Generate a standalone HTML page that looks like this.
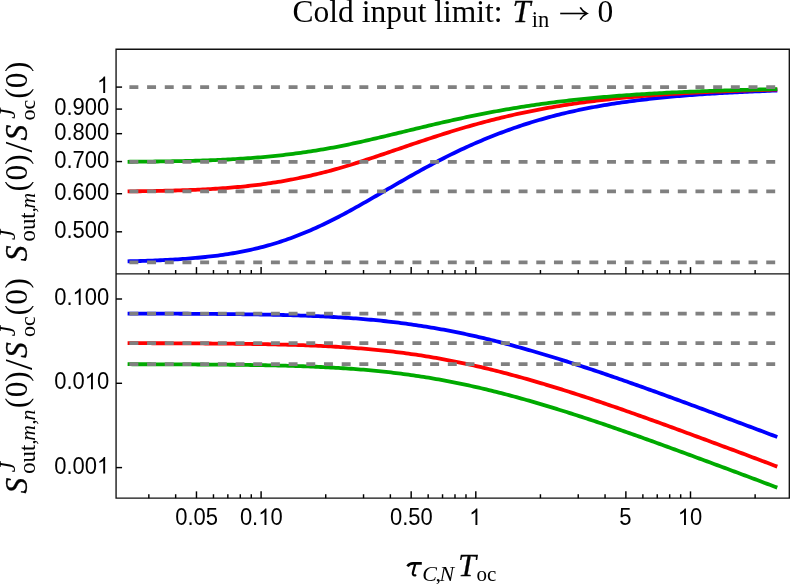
<!DOCTYPE html>
<html><head><meta charset="utf-8"><title>Cold input limit</title>
<style>html,body{margin:0;padding:0;background:#fff;}body{width:790px;height:584px;overflow:hidden;font-family:"Liberation Sans",sans-serif;}svg{display:block;}</style>
</head><body>
<svg width="790" height="584" viewBox="0 0 790 584">
<rect width="790" height="584" fill="#fff"/>
<g fill="none" stroke-width="3.80" stroke-linejoin="round">
<path stroke="#0000ff" d="M127.60 261.32 L130.11 261.26 L132.62 261.19 L135.13 261.13 L137.63 261.06 L140.14 260.98 L142.65 260.90 L145.16 260.82 L147.67 260.73 L150.18 260.64 L152.68 260.55 L155.19 260.45 L157.70 260.34 L160.21 260.23 L162.72 260.12 L165.23 260.00 L167.74 259.87 L170.24 259.73 L172.75 259.59 L175.26 259.44 L177.77 259.29 L180.28 259.13 L182.79 258.96 L185.30 258.78 L187.80 258.59 L190.31 258.39 L192.82 258.19 L195.33 257.97 L197.84 257.74 L200.35 257.51 L202.85 257.26 L205.36 257.00 L207.87 256.73 L210.38 256.44 L212.89 256.14 L215.40 255.83 L217.91 255.51 L220.41 255.17 L222.92 254.82 L225.43 254.45 L227.94 254.06 L230.45 253.66 L232.96 253.25 L235.47 252.81 L237.97 252.36 L240.48 251.89 L242.99 251.40 L245.50 250.90 L248.01 250.37 L250.52 249.83 L253.02 249.27 L255.53 248.68 L258.04 248.08 L260.55 247.45 L263.06 246.80 L265.57 246.13 L268.08 245.44 L270.58 244.72 L273.09 243.99 L275.60 243.22 L278.11 242.44 L280.62 241.63 L283.13 240.80 L285.64 239.95 L288.14 239.07 L290.65 238.17 L293.16 237.24 L295.67 236.29 L298.18 235.32 L300.69 234.33 L303.19 233.31 L305.70 232.28 L308.21 231.22 L310.72 230.15 L313.23 229.05 L315.74 227.93 L318.25 226.80 L320.75 225.64 L323.26 224.46 L325.77 223.27 L328.28 222.05 L330.79 220.81 L333.30 219.55 L335.81 218.27 L338.31 216.98 L340.82 215.66 L343.33 214.32 L345.84 212.98 L348.35 211.62 L350.86 210.24 L353.36 208.86 L355.87 207.46 L358.38 206.06 L360.89 204.64 L363.40 203.22 L365.91 201.79 L368.42 200.35 L370.92 198.91 L373.43 197.46 L375.94 196.01 L378.45 194.56 L380.96 193.10 L383.47 191.65 L385.97 190.19 L388.48 188.73 L390.99 187.28 L393.50 185.82 L396.01 184.37 L398.52 182.92 L401.03 181.48 L403.53 180.04 L406.04 178.61 L408.55 177.18 L411.06 175.76 L413.57 174.35 L416.08 172.94 L418.59 171.55 L421.09 170.16 L423.60 168.79 L426.11 167.42 L428.62 166.07 L431.13 164.72 L433.64 163.39 L436.14 162.07 L438.65 160.76 L441.16 159.47 L443.67 158.19 L446.18 156.92 L448.69 155.66 L451.20 154.42 L453.70 153.19 L456.21 151.98 L458.72 150.77 L461.23 149.59 L463.74 148.42 L466.25 147.26 L468.76 146.12 L471.26 144.99 L473.77 143.88 L476.28 142.78 L478.79 141.70 L481.30 140.63 L483.81 139.58 L486.31 138.54 L488.82 137.52 L491.33 136.51 L493.84 135.51 L496.35 134.53 L498.86 133.57 L501.37 132.61 L503.87 131.68 L506.38 130.75 L508.89 129.84 L511.40 128.95 L513.91 128.06 L516.42 127.20 L518.93 126.34 L521.43 125.50 L523.94 124.68 L526.45 123.87 L528.96 123.07 L531.47 122.29 L533.98 121.52 L536.48 120.77 L538.99 120.02 L541.50 119.30 L544.01 118.58 L546.52 117.88 L549.03 117.19 L551.54 116.52 L554.04 115.86 L556.55 115.21 L559.06 114.58 L561.57 113.96 L564.08 113.35 L566.59 112.76 L569.09 112.17 L571.60 111.60 L574.11 111.05 L576.62 110.50 L579.13 109.97 L581.64 109.45 L584.15 108.93 L586.65 108.43 L589.16 107.94 L591.67 107.47 L594.18 107.00 L596.69 106.54 L599.20 106.09 L601.71 105.65 L604.21 105.22 L606.72 104.80 L609.23 104.39 L611.74 103.99 L614.25 103.60 L616.76 103.22 L619.26 102.84 L621.77 102.48 L624.28 102.12 L626.79 101.77 L629.30 101.43 L631.81 101.09 L634.32 100.77 L636.82 100.45 L639.33 100.14 L641.84 99.83 L644.35 99.53 L646.86 99.24 L649.37 98.96 L651.88 98.68 L654.38 98.41 L656.89 98.14 L659.40 97.89 L661.91 97.63 L664.42 97.38 L666.93 97.14 L669.43 96.91 L671.94 96.68 L674.45 96.45 L676.96 96.23 L679.47 96.02 L681.98 95.81 L684.49 95.60 L686.99 95.40 L689.50 95.21 L692.01 95.02 L694.52 94.83 L697.03 94.65 L699.54 94.47 L702.05 94.30 L704.55 94.13 L707.06 93.97 L709.57 93.81 L712.08 93.65 L714.59 93.50 L717.10 93.35 L719.60 93.20 L722.11 93.06 L724.62 92.92 L727.13 92.78 L729.64 92.65 L732.15 92.51 L734.66 92.39 L737.16 92.26 L739.67 92.14 L742.18 92.02 L744.69 91.90 L747.20 91.78 L749.71 91.67 L752.22 91.56 L754.72 91.45 L757.23 91.34 L759.74 91.23 L762.25 91.12 L764.76 91.02 L767.27 90.91 L769.77 90.81 L772.28 90.71 L774.79 90.61 L777.30 90.51"/>
<path stroke="#ff0000" d="M127.60 191.40 L130.11 191.37 L132.62 191.34 L135.13 191.31 L137.63 191.27 L140.14 191.24 L142.65 191.20 L145.16 191.16 L147.67 191.12 L150.18 191.07 L152.68 191.03 L155.19 190.98 L157.70 190.93 L160.21 190.88 L162.72 190.82 L165.23 190.76 L167.74 190.70 L170.24 190.64 L172.75 190.57 L175.26 190.50 L177.77 190.42 L180.28 190.35 L182.79 190.26 L185.30 190.18 L187.80 190.08 L190.31 189.99 L192.82 189.89 L195.33 189.78 L197.84 189.67 L200.35 189.56 L202.85 189.43 L205.36 189.31 L207.87 189.17 L210.38 189.03 L212.89 188.89 L215.40 188.73 L217.91 188.57 L220.41 188.40 L222.92 188.23 L225.43 188.04 L227.94 187.85 L230.45 187.65 L232.96 187.44 L235.47 187.23 L237.97 187.00 L240.48 186.77 L242.99 186.52 L245.50 186.27 L248.01 186.00 L250.52 185.73 L253.02 185.44 L255.53 185.14 L258.04 184.84 L260.55 184.52 L263.06 184.19 L265.57 183.84 L268.08 183.49 L270.58 183.12 L273.09 182.74 L275.60 182.35 L278.11 181.95 L280.62 181.53 L283.13 181.10 L285.64 180.66 L288.14 180.20 L290.65 179.73 L293.16 179.25 L295.67 178.76 L298.18 178.25 L300.69 177.73 L303.19 177.19 L305.70 176.65 L308.21 176.10 L310.72 175.53 L313.23 174.96 L315.74 174.37 L318.25 173.77 L320.75 173.16 L323.26 172.53 L325.77 171.89 L328.28 171.24 L330.79 170.57 L333.30 169.89 L335.81 169.19 L338.31 168.47 L340.82 167.74 L343.33 167.00 L345.84 166.25 L348.35 165.49 L350.86 164.72 L353.36 163.94 L355.87 163.15 L358.38 162.36 L360.89 161.56 L363.40 160.75 L365.91 159.93 L368.42 159.11 L370.92 158.28 L373.43 157.45 L375.94 156.61 L378.45 155.77 L380.96 154.92 L383.47 154.08 L385.97 153.22 L388.48 152.37 L390.99 151.51 L393.50 150.66 L396.01 149.80 L398.52 148.94 L401.03 148.08 L403.53 147.22 L406.04 146.37 L408.55 145.51 L411.06 144.66 L413.57 143.81 L416.08 142.96 L418.59 142.11 L421.09 141.27 L423.60 140.44 L426.11 139.60 L428.62 138.77 L431.13 137.95 L433.64 137.13 L436.14 136.32 L438.65 135.51 L441.16 134.71 L443.67 133.91 L446.18 133.12 L448.69 132.34 L451.20 131.56 L453.70 130.79 L456.21 130.03 L458.72 129.27 L461.23 128.53 L463.74 127.79 L466.25 127.05 L468.76 126.33 L471.26 125.62 L473.77 124.91 L476.28 124.21 L478.79 123.52 L481.30 122.84 L483.81 122.16 L486.31 121.50 L488.82 120.84 L491.33 120.19 L493.84 119.55 L496.35 118.92 L498.86 118.30 L501.37 117.69 L503.87 117.09 L506.38 116.49 L508.89 115.91 L511.40 115.33 L513.91 114.76 L516.42 114.20 L518.93 113.65 L521.43 113.11 L523.94 112.58 L526.45 112.06 L528.96 111.54 L531.47 111.04 L533.98 110.54 L536.48 110.05 L538.99 109.57 L541.50 109.10 L544.01 108.64 L546.52 108.18 L549.03 107.73 L551.54 107.30 L554.04 106.86 L556.55 106.44 L559.06 106.03 L561.57 105.62 L564.08 105.22 L566.59 104.83 L569.09 104.45 L571.60 104.07 L574.11 103.70 L576.62 103.34 L579.13 102.99 L581.64 102.64 L584.15 102.30 L586.65 101.97 L589.16 101.64 L591.67 101.32 L594.18 101.00 L596.69 100.69 L599.20 100.39 L601.71 100.10 L604.21 99.81 L606.72 99.52 L609.23 99.25 L611.74 98.97 L614.25 98.71 L616.76 98.45 L619.26 98.19 L621.77 97.94 L624.28 97.70 L626.79 97.46 L629.30 97.22 L631.81 96.99 L634.32 96.77 L636.82 96.55 L639.33 96.33 L641.84 96.12 L644.35 95.92 L646.86 95.72 L649.37 95.52 L651.88 95.33 L654.38 95.14 L656.89 94.96 L659.40 94.78 L661.91 94.60 L664.42 94.43 L666.93 94.27 L669.43 94.10 L671.94 93.94 L674.45 93.79 L676.96 93.63 L679.47 93.48 L681.98 93.34 L684.49 93.20 L686.99 93.06 L689.50 92.92 L692.01 92.79 L694.52 92.66 L697.03 92.53 L699.54 92.40 L702.05 92.28 L704.55 92.16 L707.06 92.04 L709.57 91.93 L712.08 91.81 L714.59 91.70 L717.10 91.60 L719.60 91.49 L722.11 91.39 L724.62 91.29 L727.13 91.19 L729.64 91.09 L732.15 91.00 L734.66 90.90 L737.16 90.81 L739.67 90.72 L742.18 90.63 L744.69 90.55 L747.20 90.46 L749.71 90.38 L752.22 90.30 L754.72 90.22 L757.23 90.14 L759.74 90.06 L762.25 89.99 L764.76 89.91 L767.27 89.84 L769.77 89.76 L772.28 89.69 L774.79 89.62 L777.30 89.55"/>
<path stroke="#00aa00" d="M127.60 161.78 L130.11 161.76 L132.62 161.74 L135.13 161.72 L137.63 161.70 L140.14 161.67 L142.65 161.65 L145.16 161.62 L147.67 161.60 L150.18 161.57 L152.68 161.54 L155.19 161.51 L157.70 161.48 L160.21 161.45 L162.72 161.41 L165.23 161.37 L167.74 161.33 L170.24 161.29 L172.75 161.25 L175.26 161.20 L177.77 161.15 L180.28 161.10 L182.79 161.05 L185.30 161.00 L187.80 160.94 L190.31 160.87 L192.82 160.81 L195.33 160.74 L197.84 160.67 L200.35 160.59 L202.85 160.51 L205.36 160.43 L207.87 160.35 L210.38 160.25 L212.89 160.16 L215.40 160.06 L217.91 159.95 L220.41 159.84 L222.92 159.73 L225.43 159.61 L227.94 159.48 L230.45 159.35 L232.96 159.21 L235.47 159.07 L237.97 158.92 L240.48 158.77 L242.99 158.61 L245.50 158.44 L248.01 158.26 L250.52 158.08 L253.02 157.89 L255.53 157.70 L258.04 157.49 L260.55 157.28 L263.06 157.07 L265.57 156.84 L268.08 156.60 L270.58 156.36 L273.09 156.11 L275.60 155.85 L278.11 155.58 L280.62 155.31 L283.13 155.02 L285.64 154.73 L288.14 154.42 L290.65 154.11 L293.16 153.79 L295.67 153.46 L298.18 153.12 L300.69 152.77 L303.19 152.41 L305.70 152.05 L308.21 151.68 L310.72 151.31 L313.23 150.92 L315.74 150.53 L318.25 150.13 L320.75 149.73 L323.26 149.31 L325.77 148.88 L328.28 148.44 L330.79 147.99 L333.30 147.53 L335.81 147.05 L338.31 146.56 L340.82 146.07 L343.33 145.56 L345.84 145.04 L348.35 144.52 L350.86 143.99 L353.36 143.45 L355.87 142.90 L358.38 142.35 L360.89 141.80 L363.40 141.24 L365.91 140.67 L368.42 140.10 L370.92 139.52 L373.43 138.94 L375.94 138.35 L378.45 137.76 L380.96 137.17 L383.47 136.57 L385.97 135.98 L388.48 135.38 L390.99 134.77 L393.50 134.17 L396.01 133.56 L398.52 132.95 L401.03 132.34 L403.53 131.74 L406.04 131.13 L408.55 130.52 L411.06 129.91 L413.57 129.30 L416.08 128.70 L418.59 128.09 L421.09 127.49 L423.60 126.89 L426.11 126.29 L428.62 125.70 L431.13 125.11 L433.64 124.52 L436.14 123.93 L438.65 123.35 L441.16 122.77 L443.67 122.19 L446.18 121.62 L448.69 121.06 L451.20 120.49 L453.70 119.93 L456.21 119.38 L458.72 118.83 L461.23 118.29 L463.74 117.75 L466.25 117.22 L468.76 116.69 L471.26 116.16 L473.77 115.65 L476.28 115.14 L478.79 114.63 L481.30 114.13 L483.81 113.63 L486.31 113.15 L488.82 112.66 L491.33 112.19 L493.84 111.72 L496.35 111.25 L498.86 110.79 L501.37 110.34 L503.87 109.90 L506.38 109.46 L508.89 109.03 L511.40 108.60 L513.91 108.18 L516.42 107.76 L518.93 107.36 L521.43 106.95 L523.94 106.56 L526.45 106.17 L528.96 105.79 L531.47 105.41 L533.98 105.04 L536.48 104.68 L538.99 104.32 L541.50 103.97 L544.01 103.62 L546.52 103.28 L549.03 102.95 L551.54 102.62 L554.04 102.30 L556.55 101.98 L559.06 101.67 L561.57 101.37 L564.08 101.07 L566.59 100.77 L569.09 100.49 L571.60 100.20 L574.11 99.93 L576.62 99.66 L579.13 99.39 L581.64 99.13 L584.15 98.87 L586.65 98.62 L589.16 98.37 L591.67 98.13 L594.18 97.89 L596.69 97.66 L599.20 97.43 L601.71 97.21 L604.21 96.99 L606.72 96.77 L609.23 96.56 L611.74 96.36 L614.25 96.16 L616.76 95.96 L619.26 95.76 L621.77 95.57 L624.28 95.39 L626.79 95.20 L629.30 95.03 L631.81 94.85 L634.32 94.68 L636.82 94.51 L639.33 94.35 L641.84 94.19 L644.35 94.03 L646.86 93.88 L649.37 93.73 L651.88 93.58 L654.38 93.44 L656.89 93.30 L659.40 93.16 L661.91 93.03 L664.42 92.89 L666.93 92.77 L669.43 92.64 L671.94 92.52 L674.45 92.40 L676.96 92.28 L679.47 92.17 L681.98 92.05 L684.49 91.94 L686.99 91.84 L689.50 91.73 L692.01 91.63 L694.52 91.53 L697.03 91.43 L699.54 91.33 L702.05 91.24 L704.55 91.14 L707.06 91.05 L709.57 90.96 L712.08 90.87 L714.59 90.79 L717.10 90.71 L719.60 90.62 L722.11 90.54 L724.62 90.46 L727.13 90.38 L729.64 90.31 L732.15 90.23 L734.66 90.16 L737.16 90.09 L739.67 90.02 L742.18 89.95 L744.69 89.88 L747.20 89.81 L749.71 89.75 L752.22 89.68 L754.72 89.62 L757.23 89.56 L759.74 89.49 L762.25 89.43 L764.76 89.37 L767.27 89.31 L769.77 89.25 L772.28 89.19 L774.79 89.13 L777.30 89.07"/>
<path stroke="#0000ff" d="M127.60 313.57 L130.11 313.57 L132.62 313.58 L135.13 313.58 L137.63 313.59 L140.14 313.60 L142.65 313.60 L145.16 313.61 L147.67 313.62 L150.18 313.62 L152.68 313.63 L155.19 313.64 L157.70 313.65 L160.21 313.66 L162.72 313.66 L165.23 313.67 L167.74 313.68 L170.24 313.69 L172.75 313.70 L175.26 313.71 L177.77 313.72 L180.28 313.74 L182.79 313.75 L185.30 313.76 L187.80 313.77 L190.31 313.79 L192.82 313.80 L195.33 313.81 L197.84 313.83 L200.35 313.85 L202.85 313.86 L205.36 313.88 L207.87 313.90 L210.38 313.92 L212.89 313.93 L215.40 313.95 L217.91 313.98 L220.41 314.00 L222.92 314.02 L225.43 314.04 L227.94 314.07 L230.45 314.10 L232.96 314.12 L235.47 314.15 L237.97 314.18 L240.48 314.21 L242.99 314.24 L245.50 314.28 L248.01 314.31 L250.52 314.35 L253.02 314.39 L255.53 314.43 L258.04 314.47 L260.55 314.51 L263.06 314.56 L265.57 314.61 L268.08 314.66 L270.58 314.71 L273.09 314.76 L275.60 314.82 L278.11 314.88 L280.62 314.94 L283.13 315.00 L285.64 315.07 L288.14 315.14 L290.65 315.21 L293.16 315.28 L295.67 315.36 L298.18 315.44 L300.69 315.53 L303.19 315.61 L305.70 315.71 L308.21 315.80 L310.72 315.90 L313.23 316.00 L315.74 316.11 L318.25 316.22 L320.75 316.34 L323.26 316.46 L325.77 316.58 L328.28 316.71 L330.79 316.84 L333.30 316.98 L335.81 317.13 L338.31 317.28 L340.82 317.43 L343.33 317.59 L345.84 317.76 L348.35 317.93 L350.86 318.10 L353.36 318.29 L355.87 318.48 L358.38 318.67 L360.89 318.87 L363.40 319.08 L365.91 319.30 L368.42 319.52 L370.92 319.75 L373.43 319.98 L375.94 320.22 L378.45 320.47 L380.96 320.73 L383.47 320.99 L385.97 321.26 L388.48 321.54 L390.99 321.83 L393.50 322.12 L396.01 322.42 L398.52 322.73 L401.03 323.05 L403.53 323.38 L406.04 323.71 L408.55 324.05 L411.06 324.41 L413.57 324.76 L416.08 325.13 L418.59 325.51 L421.09 325.89 L423.60 326.28 L426.11 326.68 L428.62 327.09 L431.13 327.51 L433.64 327.94 L436.14 328.37 L438.65 328.82 L441.16 329.27 L443.67 329.73 L446.18 330.20 L448.69 330.67 L451.20 331.16 L453.70 331.65 L456.21 332.15 L458.72 332.67 L461.23 333.18 L463.74 333.71 L466.25 334.25 L468.76 334.79 L471.26 335.34 L473.77 335.90 L476.28 336.47 L478.79 337.04 L481.30 337.62 L483.81 338.21 L486.31 338.81 L488.82 339.42 L491.33 340.03 L493.84 340.65 L496.35 341.28 L498.86 341.91 L501.37 342.55 L503.87 343.20 L506.38 343.86 L508.89 344.52 L511.40 345.19 L513.91 345.87 L516.42 346.55 L518.93 347.24 L521.43 347.93 L523.94 348.63 L526.45 349.34 L528.96 350.05 L531.47 350.77 L533.98 351.50 L536.48 352.23 L538.99 352.97 L541.50 353.71 L544.01 354.45 L546.52 355.21 L549.03 355.96 L551.54 356.73 L554.04 357.50 L556.55 358.27 L559.06 359.05 L561.57 359.83 L564.08 360.62 L566.59 361.41 L569.09 362.20 L571.60 363.00 L574.11 363.81 L576.62 364.62 L579.13 365.43 L581.64 366.25 L584.15 367.07 L586.65 367.89 L589.16 368.72 L591.67 369.55 L594.18 370.39 L596.69 371.23 L599.20 372.07 L601.71 372.92 L604.21 373.77 L606.72 374.62 L609.23 375.48 L611.74 376.34 L614.25 377.20 L616.76 378.07 L619.26 378.94 L621.77 379.81 L624.28 380.69 L626.79 381.57 L629.30 382.45 L631.81 383.34 L634.32 384.22 L636.82 385.11 L639.33 386.01 L641.84 386.90 L644.35 387.80 L646.86 388.70 L649.37 389.60 L651.88 390.50 L654.38 391.41 L656.89 392.31 L659.40 393.22 L661.91 394.13 L664.42 395.05 L666.93 395.96 L669.43 396.88 L671.94 397.79 L674.45 398.71 L676.96 399.63 L679.47 400.55 L681.98 401.47 L684.49 402.39 L686.99 403.32 L689.50 404.24 L692.01 405.17 L694.52 406.09 L697.03 407.02 L699.54 407.95 L702.05 408.87 L704.55 409.80 L707.06 410.73 L709.57 411.66 L712.08 412.59 L714.59 413.52 L717.10 414.45 L719.60 415.38 L722.11 416.32 L724.62 417.25 L727.13 418.18 L729.64 419.12 L732.15 420.05 L734.66 420.99 L737.16 421.93 L739.67 422.86 L742.18 423.80 L744.69 424.74 L747.20 425.68 L749.71 426.62 L752.22 427.56 L754.72 428.50 L757.23 429.44 L759.74 430.38 L762.25 431.33 L764.76 432.27 L767.27 433.22 L769.77 434.16 L772.28 435.11 L774.79 436.06 L777.30 437.00"/>
<path stroke="#ff0000" d="M127.60 343.17 L130.11 343.17 L132.62 343.18 L135.13 343.18 L137.63 343.19 L140.14 343.20 L142.65 343.20 L145.16 343.21 L147.67 343.22 L150.18 343.22 L152.68 343.23 L155.19 343.24 L157.70 343.25 L160.21 343.26 L162.72 343.26 L165.23 343.27 L167.74 343.28 L170.24 343.29 L172.75 343.30 L175.26 343.31 L177.77 343.32 L180.28 343.34 L182.79 343.35 L185.30 343.36 L187.80 343.37 L190.31 343.39 L192.82 343.40 L195.33 343.41 L197.84 343.43 L200.35 343.45 L202.85 343.46 L205.36 343.48 L207.87 343.50 L210.38 343.52 L212.89 343.53 L215.40 343.55 L217.91 343.58 L220.41 343.60 L222.92 343.62 L225.43 343.64 L227.94 343.67 L230.45 343.70 L232.96 343.72 L235.47 343.75 L237.97 343.78 L240.48 343.81 L242.99 343.84 L245.50 343.88 L248.01 343.91 L250.52 343.95 L253.02 343.99 L255.53 344.03 L258.04 344.07 L260.55 344.11 L263.06 344.16 L265.57 344.21 L268.08 344.26 L270.58 344.31 L273.09 344.36 L275.60 344.42 L278.11 344.48 L280.62 344.54 L283.13 344.60 L285.64 344.67 L288.14 344.74 L290.65 344.81 L293.16 344.88 L295.67 344.96 L298.18 345.04 L300.69 345.13 L303.19 345.21 L305.70 345.31 L308.21 345.40 L310.72 345.50 L313.23 345.60 L315.74 345.71 L318.25 345.82 L320.75 345.94 L323.26 346.06 L325.77 346.18 L328.28 346.31 L330.79 346.44 L333.30 346.58 L335.81 346.73 L338.31 346.88 L340.82 347.03 L343.33 347.19 L345.84 347.36 L348.35 347.53 L350.86 347.70 L353.36 347.89 L355.87 348.08 L358.38 348.27 L360.89 348.47 L363.40 348.68 L365.91 348.90 L368.42 349.12 L370.92 349.35 L373.43 349.58 L375.94 349.82 L378.45 350.07 L380.96 350.33 L383.47 350.59 L385.97 350.86 L388.48 351.14 L390.99 351.43 L393.50 351.72 L396.01 352.02 L398.52 352.33 L401.03 352.65 L403.53 352.98 L406.04 353.31 L408.55 353.65 L411.06 354.01 L413.57 354.36 L416.08 354.73 L418.59 355.11 L421.09 355.49 L423.60 355.88 L426.11 356.28 L428.62 356.69 L431.13 357.11 L433.64 357.54 L436.14 357.97 L438.65 358.42 L441.16 358.87 L443.67 359.33 L446.18 359.80 L448.69 360.27 L451.20 360.76 L453.70 361.25 L456.21 361.75 L458.72 362.27 L461.23 362.78 L463.74 363.31 L466.25 363.85 L468.76 364.39 L471.26 364.94 L473.77 365.50 L476.28 366.07 L478.79 366.64 L481.30 367.22 L483.81 367.81 L486.31 368.41 L488.82 369.02 L491.33 369.63 L493.84 370.25 L496.35 370.88 L498.86 371.51 L501.37 372.15 L503.87 372.80 L506.38 373.46 L508.89 374.12 L511.40 374.79 L513.91 375.47 L516.42 376.15 L518.93 376.84 L521.43 377.53 L523.94 378.23 L526.45 378.94 L528.96 379.65 L531.47 380.37 L533.98 381.10 L536.48 381.83 L538.99 382.57 L541.50 383.31 L544.01 384.05 L546.52 384.81 L549.03 385.56 L551.54 386.33 L554.04 387.10 L556.55 387.87 L559.06 388.65 L561.57 389.43 L564.08 390.22 L566.59 391.01 L569.09 391.80 L571.60 392.60 L574.11 393.41 L576.62 394.22 L579.13 395.03 L581.64 395.85 L584.15 396.67 L586.65 397.49 L589.16 398.32 L591.67 399.15 L594.18 399.99 L596.69 400.83 L599.20 401.67 L601.71 402.52 L604.21 403.37 L606.72 404.22 L609.23 405.08 L611.74 405.94 L614.25 406.80 L616.76 407.67 L619.26 408.54 L621.77 409.41 L624.28 410.29 L626.79 411.17 L629.30 412.05 L631.81 412.94 L634.32 413.82 L636.82 414.71 L639.33 415.61 L641.84 416.50 L644.35 417.40 L646.86 418.30 L649.37 419.20 L651.88 420.10 L654.38 421.01 L656.89 421.91 L659.40 422.82 L661.91 423.73 L664.42 424.65 L666.93 425.56 L669.43 426.48 L671.94 427.39 L674.45 428.31 L676.96 429.23 L679.47 430.15 L681.98 431.07 L684.49 431.99 L686.99 432.92 L689.50 433.84 L692.01 434.77 L694.52 435.69 L697.03 436.62 L699.54 437.55 L702.05 438.47 L704.55 439.40 L707.06 440.33 L709.57 441.26 L712.08 442.19 L714.59 443.12 L717.10 444.05 L719.60 444.98 L722.11 445.92 L724.62 446.85 L727.13 447.78 L729.64 448.72 L732.15 449.65 L734.66 450.59 L737.16 451.53 L739.67 452.46 L742.18 453.40 L744.69 454.34 L747.20 455.28 L749.71 456.22 L752.22 457.16 L754.72 458.10 L757.23 459.04 L759.74 459.98 L762.25 460.93 L764.76 461.87 L767.27 462.82 L769.77 463.76 L772.28 464.71 L774.79 465.66 L777.30 466.60"/>
<path stroke="#00aa00" d="M127.60 364.22 L130.11 364.22 L132.62 364.23 L135.13 364.23 L137.63 364.24 L140.14 364.25 L142.65 364.25 L145.16 364.26 L147.67 364.27 L150.18 364.27 L152.68 364.28 L155.19 364.29 L157.70 364.30 L160.21 364.31 L162.72 364.31 L165.23 364.32 L167.74 364.33 L170.24 364.34 L172.75 364.35 L175.26 364.36 L177.77 364.37 L180.28 364.39 L182.79 364.40 L185.30 364.41 L187.80 364.42 L190.31 364.44 L192.82 364.45 L195.33 364.46 L197.84 364.48 L200.35 364.50 L202.85 364.51 L205.36 364.53 L207.87 364.55 L210.38 364.57 L212.89 364.58 L215.40 364.60 L217.91 364.63 L220.41 364.65 L222.92 364.67 L225.43 364.69 L227.94 364.72 L230.45 364.75 L232.96 364.77 L235.47 364.80 L237.97 364.83 L240.48 364.86 L242.99 364.89 L245.50 364.93 L248.01 364.96 L250.52 365.00 L253.02 365.04 L255.53 365.08 L258.04 365.12 L260.55 365.16 L263.06 365.21 L265.57 365.26 L268.08 365.31 L270.58 365.36 L273.09 365.41 L275.60 365.47 L278.11 365.53 L280.62 365.59 L283.13 365.65 L285.64 365.72 L288.14 365.79 L290.65 365.86 L293.16 365.93 L295.67 366.01 L298.18 366.09 L300.69 366.18 L303.19 366.26 L305.70 366.36 L308.21 366.45 L310.72 366.55 L313.23 366.65 L315.74 366.76 L318.25 366.87 L320.75 366.99 L323.26 367.11 L325.77 367.23 L328.28 367.36 L330.79 367.49 L333.30 367.63 L335.81 367.78 L338.31 367.93 L340.82 368.08 L343.33 368.24 L345.84 368.41 L348.35 368.58 L350.86 368.75 L353.36 368.94 L355.87 369.13 L358.38 369.32 L360.89 369.52 L363.40 369.73 L365.91 369.95 L368.42 370.17 L370.92 370.40 L373.43 370.63 L375.94 370.87 L378.45 371.12 L380.96 371.38 L383.47 371.64 L385.97 371.91 L388.48 372.19 L390.99 372.48 L393.50 372.77 L396.01 373.07 L398.52 373.38 L401.03 373.70 L403.53 374.03 L406.04 374.36 L408.55 374.70 L411.06 375.06 L413.57 375.41 L416.08 375.78 L418.59 376.16 L421.09 376.54 L423.60 376.93 L426.11 377.33 L428.62 377.74 L431.13 378.16 L433.64 378.59 L436.14 379.02 L438.65 379.47 L441.16 379.92 L443.67 380.38 L446.18 380.85 L448.69 381.32 L451.20 381.81 L453.70 382.30 L456.21 382.80 L458.72 383.32 L461.23 383.83 L463.74 384.36 L466.25 384.90 L468.76 385.44 L471.26 385.99 L473.77 386.55 L476.28 387.12 L478.79 387.69 L481.30 388.27 L483.81 388.86 L486.31 389.46 L488.82 390.07 L491.33 390.68 L493.84 391.30 L496.35 391.93 L498.86 392.56 L501.37 393.20 L503.87 393.85 L506.38 394.51 L508.89 395.17 L511.40 395.84 L513.91 396.52 L516.42 397.20 L518.93 397.89 L521.43 398.58 L523.94 399.28 L526.45 399.99 L528.96 400.70 L531.47 401.42 L533.98 402.15 L536.48 402.88 L538.99 403.62 L541.50 404.36 L544.01 405.10 L546.52 405.86 L549.03 406.61 L551.54 407.38 L554.04 408.15 L556.55 408.92 L559.06 409.70 L561.57 410.48 L564.08 411.27 L566.59 412.06 L569.09 412.85 L571.60 413.65 L574.11 414.46 L576.62 415.27 L579.13 416.08 L581.64 416.90 L584.15 417.72 L586.65 418.54 L589.16 419.37 L591.67 420.20 L594.18 421.04 L596.69 421.88 L599.20 422.72 L601.71 423.57 L604.21 424.42 L606.72 425.27 L609.23 426.13 L611.74 426.99 L614.25 427.85 L616.76 428.72 L619.26 429.59 L621.77 430.46 L624.28 431.34 L626.79 432.22 L629.30 433.10 L631.81 433.99 L634.32 434.87 L636.82 435.76 L639.33 436.66 L641.84 437.55 L644.35 438.45 L646.86 439.35 L649.37 440.25 L651.88 441.15 L654.38 442.06 L656.89 442.96 L659.40 443.87 L661.91 444.78 L664.42 445.70 L666.93 446.61 L669.43 447.53 L671.94 448.44 L674.45 449.36 L676.96 450.28 L679.47 451.20 L681.98 452.12 L684.49 453.04 L686.99 453.97 L689.50 454.89 L692.01 455.82 L694.52 456.74 L697.03 457.67 L699.54 458.60 L702.05 459.52 L704.55 460.45 L707.06 461.38 L709.57 462.31 L712.08 463.24 L714.59 464.17 L717.10 465.10 L719.60 466.03 L722.11 466.97 L724.62 467.90 L727.13 468.83 L729.64 469.77 L732.15 470.70 L734.66 471.64 L737.16 472.58 L739.67 473.51 L742.18 474.45 L744.69 475.39 L747.20 476.33 L749.71 477.27 L752.22 478.21 L754.72 479.15 L757.23 480.09 L759.74 481.03 L762.25 481.98 L764.76 482.92 L767.27 483.87 L769.77 484.81 L772.28 485.76 L774.79 486.71 L777.30 487.65"/>
</g>
<g stroke="#808080" stroke-width="3.80" stroke-dasharray="8.95 8.74" fill="none">
<path d="M129.40 87.10 H777.30"/>
<path d="M129.40 161.90 H777.30"/>
<path d="M129.40 191.40 H777.30"/>
<path d="M129.40 262.35 H777.30"/>
<path d="M129.40 313.55 H777.30"/>
<path d="M129.40 343.15 H777.30"/>
<path d="M129.40 364.20 H777.30"/>
</g>
<g stroke="#111" stroke-width="1.35" fill="none">
<path d="M116.07 49.20 H789.30 V498.15 H116.07 Z"/>
<path d="M116.07 273.90 H789.30"/>
</g>
<g stroke="#000" stroke-width="1.45" fill="none">
<path d="M196.47 498.15 v-6.80"/>
<path d="M261.10 498.15 v-6.80"/>
<path d="M411.17 498.15 v-6.80"/>
<path d="M475.80 498.15 v-6.80"/>
<path d="M625.87 498.15 v-6.80"/>
<path d="M690.50 498.15 v-6.80"/>
<path d="M148.84 498.15 v-3.90"/>
<path d="M175.66 498.15 v-3.90"/>
<path d="M213.47 498.15 v-3.90"/>
<path d="M227.84 498.15 v-3.90"/>
<path d="M240.29 498.15 v-3.90"/>
<path d="M251.28 498.15 v-3.90"/>
<path d="M325.73 498.15 v-3.90"/>
<path d="M363.54 498.15 v-3.90"/>
<path d="M390.36 498.15 v-3.90"/>
<path d="M428.17 498.15 v-3.90"/>
<path d="M442.54 498.15 v-3.90"/>
<path d="M454.99 498.15 v-3.90"/>
<path d="M465.98 498.15 v-3.90"/>
<path d="M540.43 498.15 v-3.90"/>
<path d="M578.24 498.15 v-3.90"/>
<path d="M605.06 498.15 v-3.90"/>
<path d="M642.87 498.15 v-3.90"/>
<path d="M657.24 498.15 v-3.90"/>
<path d="M669.69 498.15 v-3.90"/>
<path d="M680.68 498.15 v-3.90"/>
<path d="M755.13 498.15 v-3.90"/>
<path d="M196.47 273.90 v-6.80"/>
<path d="M261.10 273.90 v-6.80"/>
<path d="M411.17 273.90 v-6.80"/>
<path d="M475.80 273.90 v-6.80"/>
<path d="M625.87 273.90 v-6.80"/>
<path d="M690.50 273.90 v-6.80"/>
<path d="M148.84 273.90 v-3.90"/>
<path d="M175.66 273.90 v-3.90"/>
<path d="M213.47 273.90 v-3.90"/>
<path d="M227.84 273.90 v-3.90"/>
<path d="M240.29 273.90 v-3.90"/>
<path d="M251.28 273.90 v-3.90"/>
<path d="M325.73 273.90 v-3.90"/>
<path d="M363.54 273.90 v-3.90"/>
<path d="M390.36 273.90 v-3.90"/>
<path d="M428.17 273.90 v-3.90"/>
<path d="M442.54 273.90 v-3.90"/>
<path d="M454.99 273.90 v-3.90"/>
<path d="M465.98 273.90 v-3.90"/>
<path d="M540.43 273.90 v-3.90"/>
<path d="M578.24 273.90 v-3.90"/>
<path d="M605.06 273.90 v-3.90"/>
<path d="M642.87 273.90 v-3.90"/>
<path d="M657.24 273.90 v-3.90"/>
<path d="M669.69 273.90 v-3.90"/>
<path d="M680.68 273.90 v-3.90"/>
<path d="M755.13 273.90 v-3.90"/>
<path d="M116.07 87.10 h6.00"/>
<path d="M116.07 109.10 h6.00"/>
<path d="M116.07 133.68 h6.00"/>
<path d="M116.07 161.56 h6.00"/>
<path d="M116.07 193.74 h6.00"/>
<path d="M116.07 231.81 h6.00"/>
<path d="M116.07 299.00 h6.00"/>
<path d="M116.07 383.30 h6.00"/>
<path d="M116.07 467.60 h6.00"/>
</g>
<g opacity="0.999" font-family="'Liberation Sans', sans-serif" font-size="22.00" fill="#000">
<text transform="translate(175.26 525.00) scale(1 1.050)">0.05</text>
<text transform="translate(239.89 525.00) scale(1 1.050)">0.</text><path transform="translate(258.24 525.00) scale(0.01074 -0.01128)" d="M763 0H583V1147Q518 1085 412.5 1023Q307 961 223 930V1104Q374 1175 487 1276Q600 1377 647 1472H763Z"/><text transform="translate(270.47 525.00) scale(1 1.050)">0</text>
<text transform="translate(389.96 525.00) scale(1 1.050)">0.50</text>
<path transform="translate(469.18 525.00) scale(0.01074 -0.01128)" d="M763 0H583V1147Q518 1085 412.5 1023Q307 961 223 930V1104Q374 1175 487 1276Q600 1377 647 1472H763Z"/>
<text transform="translate(619.25 525.00) scale(1 1.050)">5</text>
<path transform="translate(677.76 525.00) scale(0.01074 -0.01128)" d="M763 0H583V1147Q518 1085 412.5 1023Q307 961 223 930V1104Q374 1175 487 1276Q600 1377 647 1472H763Z"/><text transform="translate(690.00 525.00) scale(1 1.050)">0</text>
<path transform="translate(96.96 93.10) scale(0.01074 -0.01128)" d="M763 0H583V1147Q518 1085 412.5 1023Q307 961 223 930V1104Q374 1175 487 1276Q600 1377 647 1472H763Z"/>
<text transform="translate(54.15 115.10) scale(1 1.050)">0.900</text>
<text transform="translate(54.15 139.68) scale(1 1.050)">0.800</text>
<text transform="translate(54.15 167.56) scale(1 1.050)">0.700</text>
<text transform="translate(54.15 199.74) scale(1 1.050)">0.600</text>
<text transform="translate(54.15 237.81) scale(1 1.050)">0.500</text>
<text transform="translate(54.15 305.00) scale(1 1.050)">0.</text><path transform="translate(72.49 305.00) scale(0.01074 -0.01128)" d="M763 0H583V1147Q518 1085 412.5 1023Q307 961 223 930V1104Q374 1175 487 1276Q600 1377 647 1472H763Z"/><text transform="translate(84.73 305.00) scale(1 1.050)">00</text>
<text transform="translate(54.15 389.30) scale(1 1.050)">0.0</text><path transform="translate(84.73 389.30) scale(0.01074 -0.01128)" d="M763 0H583V1147Q518 1085 412.5 1023Q307 961 223 930V1104Q374 1175 487 1276Q600 1377 647 1472H763Z"/><text transform="translate(96.96 389.30) scale(1 1.050)">0</text>
<text transform="translate(54.15 473.60) scale(1 1.050)">0.00</text><path transform="translate(96.96 473.60) scale(0.01074 -0.01128)" d="M763 0H583V1147Q518 1085 412.5 1023Q307 961 223 930V1104Q374 1175 487 1276Q600 1377 647 1472H763Z"/>
</g>
<g opacity="0.999" font-family="'Liberation Serif', serif" fill="#000">
<!-- title -->
<text x="292.5" y="22.1" font-size="31.5">Cold input limit: </text>
<text x="512.5" y="22.1" font-size="32.3" font-style="italic" stroke="#000" stroke-width="0.3">T</text>
<text x="531.8" y="26.7" font-size="22.5">in</text>
<path d="M560.2 13.5 H586.3" stroke="#000" stroke-width="1.6" fill="none"/>
<path d="M580.2 7.4 Q582.5 11.5 586.9 13.5 Q582.5 15.5 580.2 19.6" stroke="#000" stroke-width="1.7" fill="none" stroke-linejoin="miter"/>
<text x="597.5" y="22.1" font-size="31.5">0</text>
<!-- x label -->
<path d="M407.5 566.4 Q409.3 563.3 413 563.3 L421.8 563.3" stroke="#000" stroke-width="2.7" fill="none"/>
<path d="M415.4 563.3 L412.9 572.6 Q412.2 575.7 415.4 575.3" stroke="#000" stroke-width="2.2" fill="none" stroke-linecap="round"/>
<text x="422.2" y="580.8" font-size="22" font-style="italic">C</text>
<text x="435.6" y="580.8" font-size="22">,</text>
<text x="439.4" y="580.8" font-size="22" font-style="italic">N</text>
<text x="457.9" y="576.3" font-size="32.3" font-style="italic" stroke="#000" stroke-width="0.3">T</text>
<text x="476.5" y="580.7" font-size="21">oc</text>
<!-- y label top -->
<g transform="translate(27.2,261.30) rotate(-90)">
<text x="0" y="0" font-size="31.5" font-style="italic" stroke="#000" stroke-width="0.3">S</text>
<text x="21.4" y="-12.4" font-size="23.3" font-style="italic">J</text>
<text x="19.8" y="8" font-size="22.8">out</text>
<text x="48.8" y="8" font-size="22">,</text>
<text x="52.8" y="8" font-size="21.8" font-style="italic">m</text>
<text x="69.70" y="0" font-size="31.5">(</text>
<text x="80.70" y="0" font-size="31.5">0</text>
<text x="96.60" y="0" font-size="31.5">)</text>
<text x="108.90" y="4.3" font-size="39">/</text>
<text x="120.80" y="0" font-size="31.5" font-style="italic" stroke="#000" stroke-width="0.3">S</text>
<text x="142.60" y="-12.4" font-size="23.3" font-style="italic">J</text>
<text x="140.90" y="8" font-size="22">oc</text>
<text x="162.50" y="0" font-size="31.5">(</text>
<text x="173.05" y="0" font-size="31.5">0</text>
<text x="189.35" y="0" font-size="31.5">)</text>
</g>
<!-- y label bottom -->
<g transform="translate(27.2,493.60) rotate(-90)">
<text x="0" y="0" font-size="31.5" font-style="italic" stroke="#000" stroke-width="0.3">S</text>
<text x="21.4" y="-12.4" font-size="23.3" font-style="italic">J</text>
<text x="19.8" y="8" font-size="22.8">out</text>
<text x="48.8" y="8" font-size="22">,</text>
<text x="52.8" y="8" font-size="21.8" font-style="italic">m</text>
<text x="68.8" y="8" font-size="22">,</text>
<text x="73.0" y="8" font-size="21.8" font-style="italic">n</text>
<text x="85.40" y="0" font-size="31.5">(</text>
<text x="96.40" y="0" font-size="31.5">0</text>
<text x="111.80" y="0" font-size="31.5">)</text>
<text x="123.60" y="4.3" font-size="39">/</text>
<text x="135.50" y="0" font-size="31.5" font-style="italic" stroke="#000" stroke-width="0.3">S</text>
<text x="157.30" y="-12.4" font-size="23.3" font-style="italic">J</text>
<text x="156.70" y="8" font-size="22">oc</text>
<text x="178.20" y="0" font-size="31.5">(</text>
<text x="188.75" y="0" font-size="31.5">0</text>
<text x="205.05" y="0" font-size="31.5">)</text>
</g>
</g>

</svg>
</body></html>
